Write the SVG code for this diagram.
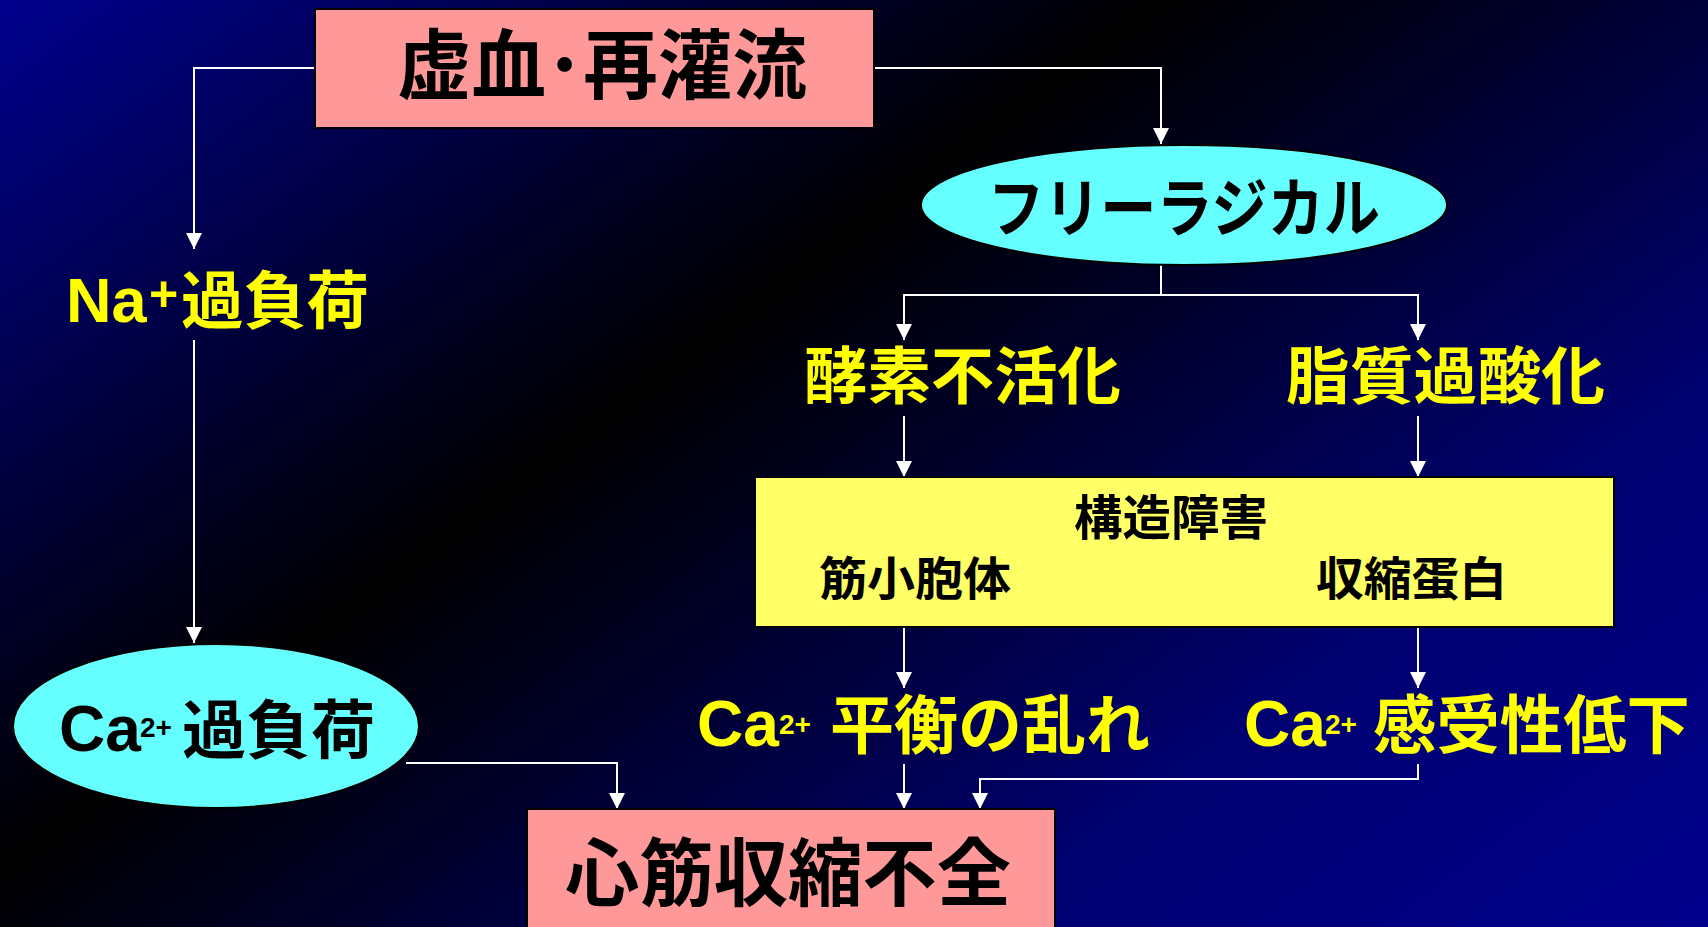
<svg xmlns="http://www.w3.org/2000/svg" width="1708" height="927" viewBox="0 0 1708 927">
<defs>
<linearGradient id="bg" x1="0" y1="0" x2="1" y2="1">
<stop offset="0" stop-color="#00008E"/>
<stop offset="0.34" stop-color="#000000"/>
<stop offset="0.65" stop-color="#000070"/>
<stop offset="0.86" stop-color="#00008C"/>
<stop offset="1" stop-color="#000092"/>
</linearGradient>
<marker id="ah" markerUnits="userSpaceOnUse" markerWidth="16" markerHeight="16" viewBox="0 0 16 16" refX="16" refY="8" orient="auto">
<path d="M0,0 L16,8 L0,16 z" fill="#FFFFFF"/>
</marker>
<style>
.cj{font-family:"Noto Sans CJK JP","Noto Sans CJK SC",sans-serif;font-weight:bold;}
.la{font-family:"Liberation Sans",Arial,sans-serif;font-weight:bold;}
.yel{fill:#FFFF00;}
.blk{fill:#000000;}
.conn{fill:none;stroke:#FFFFFF;stroke-width:2;}
.pink{fill:#FF9999;stroke:#000000;stroke-width:2;}
.cyan{fill:#66FFFF;stroke:#000000;stroke-width:2;}
.ybox{fill:#FFFF66;stroke:#000000;stroke-width:2;}
</style>
</defs>
<rect x="0" y="0" width="1708" height="1281" fill="url(#bg)"/>

<g id="connectors">
<path class="conn" d="M315,68 H194 V249" marker-end="url(#ah)"/>
<path class="conn" d="M874,68 H1161 V144" marker-end="url(#ah)"/>
<path class="conn" d="M1161,265 V295 H904 V340" marker-end="url(#ah)"/>
<path class="conn" d="M1161,295 H1418 V340" marker-end="url(#ah)"/>
<path class="conn" d="M904,416 V477" marker-end="url(#ah)"/>
<path class="conn" d="M1418,416 V477" marker-end="url(#ah)"/>
<path class="conn" d="M904,627 V688" marker-end="url(#ah)"/>
<path class="conn" d="M1418,627 V688" marker-end="url(#ah)"/>
<path class="conn" d="M904,764 V809" marker-end="url(#ah)"/>
<path class="conn" d="M1418,764 V779 H980 V809" marker-end="url(#ah)"/>
<path class="conn" d="M194,340 V643" marker-end="url(#ah)"/>
<path class="conn" d="M406,763 H617 V809" marker-end="url(#ah)"/>
</g>

<g id="ischemia">
<rect class="pink" x="315" y="9" width="559" height="119"/>
<text class="cj blk" x="397" y="93" font-size="76" textLength="410" lengthAdjust="spacingAndGlyphs">虚血･再灌流</text>
</g>

<g id="free-radical">
<ellipse class="cyan" cx="1184" cy="205" rx="263" ry="60"/>
<text class="cj blk" x="988" y="231" font-size="64" textLength="392" lengthAdjust="spacingAndGlyphs">フリーラジカル</text>
</g>

<g id="na-overload">
<text class="la yel" x="66" y="322" font-size="63">Na</text>
<text class="la yel" x="149" y="311" font-size="50">+</text>
<text class="cj yel" x="181" y="323" font-size="63" textLength="188" lengthAdjust="spacingAndGlyphs">過負荷</text>
</g>

<g id="enzyme">
<text class="cj yel" x="804" y="399" font-size="62" textLength="317" lengthAdjust="spacingAndGlyphs">酵素不活化</text>
</g>

<g id="lipid">
<text class="cj yel" x="1286" y="399" font-size="62" textLength="319" lengthAdjust="spacingAndGlyphs">脂質過酸化</text>
</g>

<g id="structural">
<rect class="ybox" x="755" y="477" width="859" height="150"/>
<text class="cj blk" x="1074" y="535" font-size="48" textLength="194" lengthAdjust="spacingAndGlyphs">構造障害</text>
<text class="cj blk" x="819" y="595" font-size="46" textLength="192" lengthAdjust="spacingAndGlyphs">筋小胞体</text>
<text class="cj blk" x="1316" y="595" font-size="46" textLength="191" lengthAdjust="spacingAndGlyphs">収縮蛋白</text>
</g>

<g id="ca-overload">
<ellipse class="cyan" cx="216" cy="726" rx="203" ry="82"/>
<text class="la blk" x="59" y="751" font-size="64">Ca</text>
<text class="la blk" x="140" y="737" font-size="28">2+</text>
<text class="cj blk" x="182" y="753" font-size="64" textLength="193" lengthAdjust="spacingAndGlyphs">過負荷</text>
</g>

<g id="ca-balance">
<text class="la yel" x="697" y="746" font-size="64">Ca</text>
<text class="la yel" x="779" y="734" font-size="28">2+</text>
<text class="cj yel" x="830" y="748" font-size="64" textLength="320" lengthAdjust="spacingAndGlyphs">平衡の乱れ</text>
</g>

<g id="ca-sensitivity">
<text class="la yel" x="1244" y="746" font-size="64">Ca</text>
<text class="la yel" x="1325" y="734" font-size="28">2+</text>
<text class="cj yel" x="1373" y="748" font-size="64" textLength="317" lengthAdjust="spacingAndGlyphs">感受性低下</text>
</g>

<g id="contractile-failure">
<rect class="pink" x="527" y="809" width="528" height="140"/>
<text class="cj blk" x="565" y="900" font-size="74" textLength="446" lengthAdjust="spacingAndGlyphs">心筋収縮不全</text>
</g>
</svg>
